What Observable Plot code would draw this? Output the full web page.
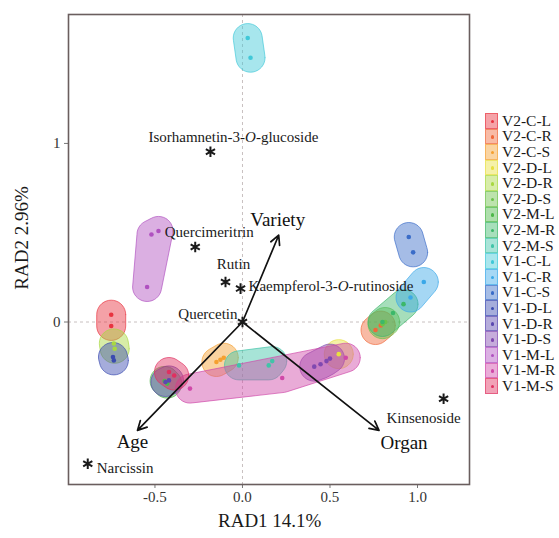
<!DOCTYPE html>
<html><head><meta charset="utf-8">
<script src="https://cdn.jsdelivr.net/npm/d3@7"></script>
<script src="https://cdn.jsdelivr.net/npm/@observablehq/plot@0.6"></script>
<style>
body{margin:0;background:#fff;}
#wrap{position:relative;width:559px;height:538px;font-family:"Liberation Serif",serif;}
#legend{position:absolute;left:485px;top:113px;font-size:15.5px;color:#1a1a1a;}
.row{display:flex;align-items:center;height:15.6px;}
.key{width:13px;height:15.6px;box-sizing:border-box;position:relative;margin-right:4px;}
.key i{position:absolute;left:4.6px;top:5.7px;width:3.6px;height:3.6px;border-radius:50%;}
.xt{position:absolute;left:218px;top:510px;width:100px;text-align:center;font-size:19px;color:#1a1a1a;white-space:nowrap;}
.yt{position:absolute;left:22px;top:238px;transform:translate(-50%,-50%) rotate(-90deg);font-size:19px;color:#1a1a1a;white-space:nowrap;}
</style></head><body>
<div id="wrap"><div id="legend"></div><div class="xt">RAD1 14.1%</div><div class="yt">RAD2 2.96%</div></div>
<script>
// ---- data ----
const groups = ["V2-C-L","V2-C-R","V2-C-S","V2-D-L","V2-D-R","V2-D-S","V2-M-L","V2-M-R","V2-M-S",
                "V1-C-L","V1-C-R","V1-C-S","V1-D-L","V1-D-R","V1-D-S","V1-M-L","V1-M-R","V1-M-S"];
const groupColors = ["#e8333f","#f0683a","#f5a030","#e8e040","#a8d840","#6cc24a","#4cb848","#3cb86a","#40c4a8",
                     "#40c8d8","#3aa8e8","#3a6cc8","#3a4ab0","#5a48b0","#8048b0","#b050c0","#d048a8","#e03060"];

const pointGroup = ["V2-C-L","V2-C-L",
  "V2-C-R","V2-C-R",
  "V2-C-S","V2-C-S","V2-C-S",
  "V2-D-L",
  "V2-D-R","V2-D-R",
  "V2-D-S","V2-D-S",
  "V2-M-L","V2-M-L",
  "V2-M-R","V2-M-R","V2-M-R",
  "V2-M-S","V2-M-S","V2-M-S",
  "V1-C-L","V1-C-L",
  "V1-C-R","V1-C-R",
  "V1-C-S","V1-C-S",
  "V1-D-L","V1-D-L",
  "V1-D-R","V1-D-R",
  "V1-D-S","V1-D-S","V1-D-S","V1-D-S",
  "V1-M-L","V1-M-L","V1-M-L",
  "V1-M-R","V1-M-R","V1-M-R",
  "V1-M-S","V1-M-S"];
const pointX = [-0.75,-0.75,
  0.76,0.79,
  -0.149,-0.126,-0.107,
  0.55,
  -0.73,-0.735,
  0.80,0.815,
  -0.445,-0.43,
  0.92,0.86,0.80,
  -0.02,0.15,0.17,
  0.03,0.046,
  1.036,0.96,
  0.95,0.975,
  -0.74,-0.735,
  -0.44,-0.42,
  0.41,0.446,0.48,0.50,
  -0.52,-0.48,-0.545,
  -0.30,0.227,0.59,
  -0.42,-0.39];
const pointY = [0.041,-0.022,
  -0.045,-0.02,
  -0.224,-0.211,-0.2,
  -0.18,
  -0.15,-0.12,
  -0.012,0.0,
  -0.33,-0.345,
  0.10,0.05,0.0,
  -0.243,-0.243,-0.219,
  1.59,1.48,
  0.224,0.137,
  0.476,0.39,
  -0.196,-0.215,
  -0.336,-0.327,
  -0.25,-0.237,-0.219,-0.205,
  0.49,0.51,0.196,
  -0.373,-0.314,-0.2,
  -0.28,-0.30];

const compNames = ["Isorhamnetin-3-O-glucoside","Quercimeritrin","Rutin","Kaempferol-3-O-rutinoside","Quercetin","Narcissin","Kinsenoside"];
const compX = [-0.183,-0.27,-0.097,-0.011,0,-0.884,1.149];
const compY = [0.953,0.42,0.224,0.187,0,-0.794,-0.43];

const vecNames = ["Variety","Age","Organ"];
const vecX = [0.207,-0.60,0.78];
const vecY = [0.486,-0.607,-0.607];

const xTicks = [-0.5,0,0.5,1];
const yTicks = [0,1];

// ---- layout / style ----
const W=559,H=538,mL=68,mR=90,mT=14,mB=54;
const xDom=[-0.994,1.297], yDom=[-0.91,1.722];
const kx=(W-mL-mR)/(xDom[1]-xDom[0]), ky=(H-mT-mB)/(yDom[1]-yDom[0]);
const hullR=14.5;
const compLayout = [
  {dx:23,dy:-15,anchor:"middle"},
  {dx:14,dy:-15,anchor:"middle"},
  {dx:8,dy:-18,anchor:"middle"},
  {dx:8,dy:-2,anchor:"start"},
  {dx:-5,dy:-8,anchor:"end"},
  {dx:9,dy:4,anchor:"start"},
  {dx:-20,dy:19,anchor:"middle"}];
const vecLayout = [{dx:-1,dy:-15},{dx:-5,dy:12},{dx:25,dy:13}];

const points = pointGroup.map((g,i)=>({group:g,x:pointX[i],y:pointY[i]}));
const hullRows=[];
groups.forEach(g=>{
  const pts=points.filter(p=>p.group===g);
  if(!pts.length) return;
  const ring=[];
  pts.forEach(p=>{for(let i=0;i<36;i++){const a=2*Math.PI*i/36;ring.push([p.x+hullR*Math.cos(a)/kx,p.y+hullR*Math.sin(a)/ky]);}});
  const hull=d3.polygonHull(ring);
  hull.push(hull[0]);
  hull.forEach(([x,y])=>hullRows.push({group:g,x,y}));
});
const comps = compNames.map((n,i)=>({name:n,x:compX[i],y:compY[i]}));
const vecs = vecNames.map((n,i)=>({name:n,x:vecX[i],y:vecY[i]}));

const plot = Plot.plot({
  width:W,height:H,marginLeft:mL,marginRight:mR,marginTop:mT,marginBottom:mB,
  style:{fontFamily:"Liberation Serif",fontSize:"15px",color:"#1a1a1a",background:"#fff"},
  x:{domain:xDom},
  y:{domain:yDom},
  color:{domain:groups,range:groupColors},
  marks:[
    Plot.ruleX([0],{stroke:"#c8c0c0",strokeDasharray:"3,3",strokeWidth:1}),
    Plot.ruleY([0],{stroke:"#c8c0c0",strokeDasharray:"3,3",strokeWidth:1}),
    Plot.line(hullRows,{x:"x",y:"y",z:"group",fill:"group",stroke:"group",fillOpacity:0.46,strokeOpacity:0.75,strokeWidth:0.9,curve:"linear"}),
    Plot.dot(points,{x:"x",y:"y",fill:"group",r:2.3}),
    Plot.arrow(vecs,{x1:()=>0,y1:()=>0,x2:"x",y2:"y",stroke:"#111",strokeWidth:1.7,headLength:9,headAngle:55}),
    ...vecs.map((v,i)=>Plot.text([v],{x:"x",y:"y",text:"name",dx:vecLayout[i].dx,dy:vecLayout[i].dy,fontSize:19,fill:"#111"})),
    Plot.dot(comps,{x:"x",y:"y",symbol:"asterisk",r:5,stroke:"#1a1a1a",strokeWidth:2}),
    ...comps.map((c,i)=>Plot.text([c],{x:"x",y:"y",text:"name",dx:compLayout[i].dx,dy:compLayout[i].dy,textAnchor:compLayout[i].anchor,fontSize:15,fill:"#1a1a1a"})),
    Plot.axisX({ticks:xTicks,tickFormat:d=>d.toFixed(1),tickSize:4,tickPadding:3,label:null,fontSize:15,stroke:"#777",fill:"#333"}),
    Plot.axisY({ticks:yTicks,tickFormat:d=>String(d),tickSize:4,tickPadding:4,label:null,fontSize:15,stroke:"#777",fill:"#333"}),
    Plot.frame({stroke:"#6a5e5e",strokeWidth:1.6})
  ]
});
// italic "O" in compound names
d3.select(plot).selectAll("text").each(function(){
  const t=this.textContent;
  if(t.includes("-3-O-") && this.childNodes.length===1){
    const [a,b]=t.split("-3-O-");
    this.textContent="";
    const s=d3.select(this);
    s.append("tspan").text(a+"-3-");
    s.append("tspan").attr("font-style","italic").text("O");
    s.append("tspan").text("-"+b);
  }
});
document.getElementById("wrap").prepend(plot);

const lg=document.getElementById("legend");
groups.forEach((g,i)=>{
  const c=d3.color(groupColors[i]);
  const row=document.createElement("div");row.className="row";
  const k=document.createElement("div");k.className="key";
  k.style.background=`rgba(${c.r},${c.g},${c.b},0.45)`;
  k.style.border=`1px solid rgba(${c.r},${c.g},${c.b},0.6)`;
  const dot=document.createElement("i");dot.style.background=groupColors[i];k.appendChild(dot);
  const s=document.createElement("span");s.textContent=g;
  row.appendChild(k);row.appendChild(s);lg.appendChild(row);
});
</script></body></html>
